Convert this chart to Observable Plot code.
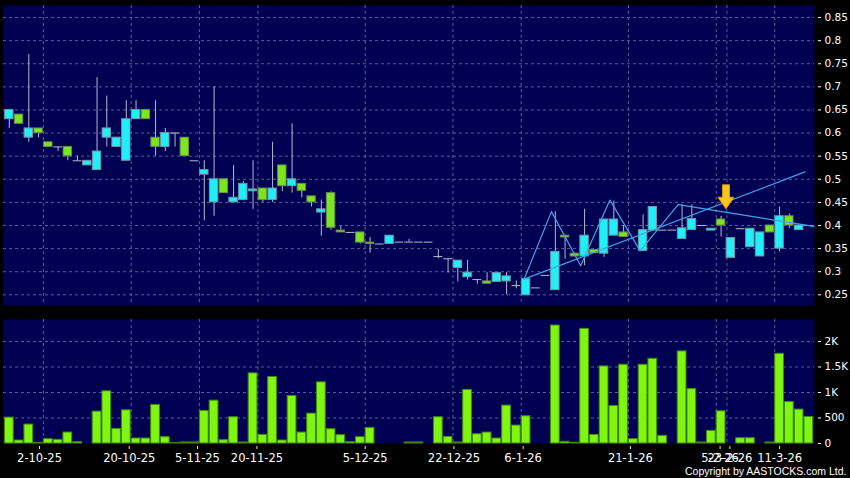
<!DOCTYPE html>
<html><head><meta charset="utf-8">
<script src="https://cdn.jsdelivr.net/npm/d3@7"></script>
<script src="https://cdn.jsdelivr.net/npm/@observablehq/plot@0.6"></script>
<style>
html,body{margin:0;padding:0;background:#000;}
#wrap{position:relative;width:850px;height:478px;background:#000;overflow:hidden;}
#wrap svg{position:absolute;left:0;}
</style></head><body><div id="wrap"></div>
<script>
// ---- data (one entry per trading session, index 0..82) ----
const opens  = [0.63,0.64,0.59,0.61,0.58,0.57,0.57,0.54,0.53,0.52,0.59,0.57,0.54,0.63,0.65,0.59,0.57,0.60,0.59,0.54,
  0.51,0.45,0.50,0.45,0.455,0.474,0.48,0.455,0.53,0.485,0.49,0.463,0.428,0.47,0.389,0.385,0.385,0.363,0.36,0.36,
  0.364,0.364,0.364,0.364,0.333,0.328,0.308,0.288,0.283,0.279,0.278,0.279,0.27,0.249,0.265,0.292,0.26,0.378,0.339,0.333,
  0.347,0.339,0.378,0.385,null,0.345,0.389,0.39,0.39,0.371,0.39,0.40,0.389,0.413,0.33,0.393,0.353,0.333,0.40,0.35,
  0.42,0.39,0.40];
const highs  = [0.65,0.64,0.77,0.61,0.58,0.57,0.57,0.55,0.54,0.72,0.68,0.59,0.67,0.67,0.65,0.67,0.61,0.60,0.59,0.54,
  0.54,0.70,0.50,0.53,0.495,0.54,0.48,0.58,0.53,0.62,0.49,0.463,0.455,0.473,0.398,0.385,0.385,0.374,0.36,0.378,
  0.364,0.37,0.364,0.364,0.348,0.328,0.324,0.325,0.283,0.298,0.297,0.298,0.28,0.284,0.265,0.292,0.43,0.378,0.34,0.435,
  0.347,0.413,0.453,0.40,null,0.423,0.44,0.39,0.39,0.445,0.445,0.40,0.393,0.42,0.373,0.393,0.393,0.385,0.40,0.44,
  0.425,0.40,0.40];
const lows   = [0.61,0.62,0.58,0.59,0.57,0.56,0.54,0.54,0.53,0.52,0.57,0.57,0.54,0.63,0.63,0.55,0.56,0.57,0.55,0.54,
  0.41,0.42,0.47,0.45,0.455,0.435,0.45,0.45,0.473,0.47,0.46,0.44,0.377,0.39,0.385,0.385,0.36,0.34,0.36,0.36,
  0.364,0.364,0.364,0.364,0.328,0.297,0.278,0.282,0.273,0.274,0.278,0.25,0.263,0.249,0.265,0.292,0.26,0.327,0.333,0.313,
  0.34,0.331,0.378,0.375,null,0.345,0.389,0.39,0.39,0.371,0.39,0.40,0.389,0.375,0.33,0.393,0.353,0.333,0.385,0.343,
  0.393,0.39,0.40];
const closes = [0.65,0.62,0.61,0.60,0.57,0.57,0.55,0.54,0.54,0.56,0.61,0.59,0.63,0.65,0.63,0.57,0.60,0.60,0.55,0.54,
  0.52,0.50,0.47,0.46,0.49,0.478,0.455,0.48,0.485,0.50,0.475,0.45,0.435,0.395,0.385,0.385,0.363,0.36,0.36,0.378,
  0.364,0.364,0.364,0.364,0.333,0.328,0.324,0.298,0.283,0.274,0.297,0.29,0.27,0.284,0.265,0.292,0.343,0.374,0.333,0.378,
  0.34,0.413,0.413,0.375,null,0.39,0.44,0.39,0.39,0.394,0.414,0.40,0.393,0.40,0.373,0.393,0.393,0.385,0.385,0.42,
  0.40,0.40,0.40];
const volumes = [508,59,371,13,85,72,215,26,0,625,1023,287,651,98,98,756,124,7,20,20,
  638,840,65,515,20,1375,169,1303,59,932,215,586,1199,280,163,26,124,306,0,0,
  0,20,20,0,515,130,20,1049,182,215,98,743,352,534,0,0,2313,33,13,2248,
  169,1511,736,1544,85,1544,1661,150,0,1805,1068,20,248,632,0,104,104,0,20,1758,
  814,665,521];

// trend lines (session index, price)
const zigX = [52.8, 55.6, 58.6, 61.6, 64.7, 68.6, 82.5];
const zigY = [0.284, 0.43, 0.313, 0.455, 0.345, 0.445, 0.398];
const riseX = [52.8, 81.6];
const riseY = [0.284, 0.516];
const arrowX = [73.5];
const arrowY = [0.436];

// axes
const priceTicks = [0.25,0.3,0.35,0.4,0.45,0.5,0.55,0.6,0.65,0.7,0.75,0.8,0.85];
const volTicks = [0, 500, 1000, 1500, 2000];
const volTickLabels = ["0", "500", "1K", "1.5K", "2K"];
const dateTickIdx = [3.1, 12.3, 19.3, 25.4, 36.5, 45.6, 52.7, 63.7, 72.9, 73.9, 79.0];
const dateTickLabels = ["2-10-25","20-10-25","5-11-25","20-11-25","5-12-25","22-12-25","6-1-26","21-1-26","5-2-26","23-2-26","11-3-26"];
const gridIdx = [3.5, 12.5, 19.5, 25.5, 36.5, 45.5, 52.5, 63.5, 72.5, 73.6, 78.5];
const copyright = "Copyright by AASTOCKS.com Ltd.";

// ---- styles ----
const NAVY = "#000052", GRID = "#5c5c98", WICK = "#b8b8cc";
const CYAN = "#22eef8", CYAN_B = "#6f98a8", GREEN = "#7be61e", GREEN_B = "#6a8a50";
const VOL = "#7ff510", VOL_B = "#3f8a0c", TREND = "#42a4e6";
const xDomain = [-0.595, 82.58];

const candles = opens.map((o, i) => ({i, open: o, high: highs[i], low: lows[i], close: closes[i]})).filter(d => d.open != null);
const bodies = candles.filter(d => d.open !== d.close);
const dojis = candles.filter(d => d.open === d.close);
const zig = zigX.map((x, k) => ({x, y: zigY[k]}));
const rise = riseX.map((x, k) => ({x, y: riseY[k]}));
const arrow = arrowX.map((x, k) => ({x, y: arrowY[k]}));
const vol = volumes.map((v, i) => ({i, v}));
const dateLabel = new Map(dateTickIdx.map((t, k) => [t, dateTickLabels[k]]));
const volLabel = new Map(volTicks.map((t, k) => [t, volTickLabels[k]]));

const arrowSymbol = {
  draw(ctx) {
    ctx.moveTo(-3.5, -24); ctx.lineTo(3.5, -24); ctx.lineTo(3.5, -11.6); ctx.lineTo(8, -11.6);
    ctx.lineTo(0, 0); ctx.lineTo(-8, -11.6); ctx.lineTo(-3.5, -11.6); ctx.closePath();
  }
};

const priceChart = Plot.plot({
  width: 850, height: 310,
  marginTop: 5, marginBottom: 5, marginLeft: 3, marginRight: 36,
  style: {background: "transparent", color: "#fff", fontFamily: "DejaVu Sans", fontSize: "10.5px"},
  x: {domain: xDomain, axis: null},
  y: {domain: [0.2269, 0.876]},
  color: {type: "identity"},
  marks: [
    Plot.frame({fill: NAVY, stroke: null}),
    Plot.ruleY(priceTicks, {stroke: GRID, strokeDasharray: "3,3"}),
    Plot.ruleX(gridIdx, {stroke: GRID, strokeDasharray: "3,3"}),
    Plot.ruleX(candles, {x: "i", y1: "low", y2: "high", stroke: WICK}),
    Plot.ruleY(dojis, {y: "open", x1: d => d.i - 0.45, x2: d => d.i + 0.45, stroke: WICK}),
    Plot.rect(bodies, {x1: d => d.i - 0.43, x2: d => d.i + 0.43, y1: "open", y2: "close",
      fill: d => d.close > d.open ? CYAN : GREEN, stroke: d => d.close > d.open ? CYAN_B : GREEN_B}),
    Plot.line(zig, {x: "x", y: "y", stroke: TREND, strokeWidth: 1.2}),
    Plot.line(rise, {x: "x", y: "y", stroke: TREND, strokeWidth: 1.2}),
    Plot.dot(arrow, {x: "x", y: "y", r: 10, symbol: arrowSymbol, fill: "#fbc41c", stroke: "#e0960c", strokeWidth: 1}),
    Plot.axisY({anchor: "right", ticks: priceTicks, tickSize: 3, dx: 3, tickPadding: 4,
      tickFormat: d => String(+d.toFixed(2)), label: null, stroke: "#fff"})
  ]
});

const volChart = Plot.plot({
  width: 850, height: 166,
  marginTop: 7, marginBottom: 35, marginLeft: 3, marginRight: 36,
  style: {background: "transparent", color: "#fff", fontFamily: "DejaVu Sans", fontSize: "10.5px"},
  x: {domain: xDomain},
  y: {domain: [0, 2431]},
  color: {type: "identity"},
  marks: [
    Plot.frame({fill: NAVY, stroke: null}),
    Plot.ruleY(volTicks.filter(v => v > 0), {stroke: GRID, strokeDasharray: "3,3"}),
    Plot.ruleX(gridIdx, {stroke: GRID, strokeDasharray: "3,3"}),
    Plot.rectY(vol, {x1: d => d.i - 0.45, x2: d => d.i + 0.45, y: "v", fill: VOL, stroke: VOL_B}),
    Plot.axisY({anchor: "right", ticks: volTicks, tickSize: 3, dx: 3, tickPadding: 4,
      tickFormat: d => volLabel.get(d), label: null, stroke: "#fff"}),
    Plot.axisX({anchor: "bottom", ticks: dateTickIdx, tickSize: 3, dy: 3, tickPadding: 4,
      tickFormat: d => dateLabel.get(d), label: null, fontSize: 11.5, stroke: "#ddd"}),
    Plot.text([copyright], {frameAnchor: "bottom-right", text: d => d, textAnchor: "end",
      dx: 32, dy: 31, fill: "#fff", fontFamily: "Liberation Sans", fontSize: 10.5})
  ]
});

const wrap = document.getElementById("wrap");
priceChart.style.top = "0px";
volChart.style.top = "312px";
wrap.appendChild(priceChart);
wrap.appendChild(volChart);
</script></body></html>
